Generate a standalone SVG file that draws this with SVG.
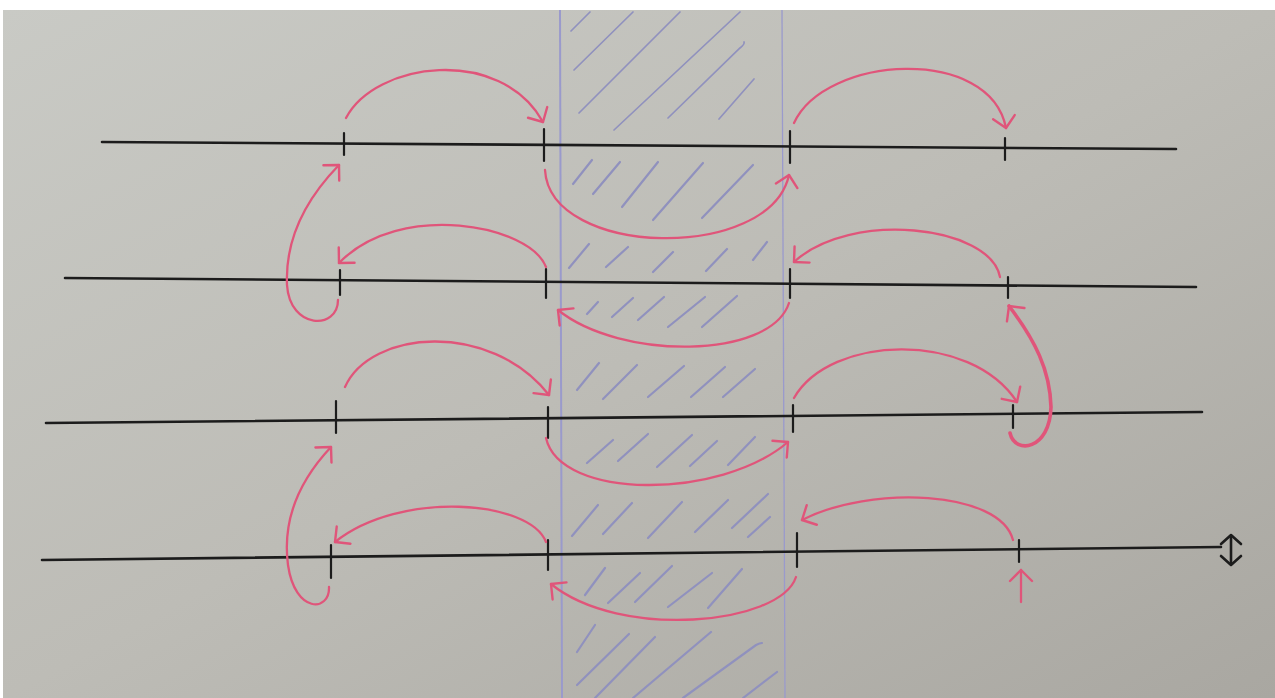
<svg xmlns="http://www.w3.org/2000/svg" width="1275" height="698" viewBox="0 0 1275 698">
<defs>
<linearGradient id="paper" x1="0" y1="0" x2="1" y2="1">
<stop offset="0" stop-color="#c9cac5"/>
<stop offset="0.5" stop-color="#bdbcb6"/>
<stop offset="1" stop-color="#a9a7a1"/>
</linearGradient>
<marker id="ah" viewBox="0 0 16 26" refX="13" refY="13" markerWidth="16" markerHeight="26" markerUnits="userSpaceOnUse" orient="auto">
<path d="M2,2 L13,13 L2,24" fill="none" stroke="#e0557a" stroke-width="2.4" stroke-linecap="round" stroke-linejoin="round"/>
</marker>
<marker id="bh" viewBox="0 0 14 24" refX="11" refY="12" markerWidth="14" markerHeight="24" markerUnits="userSpaceOnUse" orient="auto-start-reverse">
<path d="M2,2 L11,12 L2,22" fill="none" stroke="#1c1c1c" stroke-width="2.6" stroke-linecap="round" stroke-linejoin="round"/>
</marker>
</defs>
<style>
.axis{stroke:#1c1c1c;stroke-width:2.6;fill:none;stroke-linecap:round}
.tick{stroke:#1c1c1c;stroke-width:2.2;fill:none;stroke-linecap:round}
.band{stroke:#9a9acc;fill:none}
.hatch{stroke:#9091be;stroke-width:2.2;fill:none;stroke-linecap:round}
.hatch.thin{stroke-width:1.7}
.arc{stroke:#e0557a;stroke-width:2.3;fill:none;stroke-linecap:round;marker-end:url(#ah)}
.arc.thick{stroke-width:3.6}
</style>
<rect x="0" y="0" width="1275" height="698" fill="#ffffff"/>
<rect x="3" y="10" width="1272" height="688" fill="url(#paper)"/>

<g id="shaded-band">
<line class="band" x1="560" y1="10" x2="562" y2="698" stroke-width="2"/>
<line class="band" x1="782" y1="10" x2="785" y2="698" stroke-width="1.3"/>
<g class="hatch thin">
<line x1="571" y1="31" x2="590" y2="12"/>
<line x1="574" y1="70" x2="633" y2="12"/>
<line x1="579" y1="113" x2="680" y2="12"/>
<line x1="614" y1="130" x2="740" y2="12"/>
<path d="M668,118 L740,48 Q745,44 744,42"/>
<line x1="719" y1="119" x2="754" y2="79"/>
</g>
<g class="hatch">
<line x1="573" y1="184" x2="592" y2="160"/>
<line x1="593" y1="194" x2="620" y2="162"/>
<line x1="622" y1="207" x2="658" y2="162"/>
<line x1="653" y1="220" x2="703" y2="163"/>
<line x1="702" y1="218" x2="753" y2="165"/>
<line x1="569" y1="268" x2="589" y2="244"/>
<line x1="606" y1="267" x2="628" y2="247"/>
<line x1="653" y1="272" x2="673" y2="252"/>
<line x1="706" y1="271" x2="727" y2="249"/>
<line x1="753" y1="260" x2="767" y2="242"/>
<line x1="587" y1="314" x2="598" y2="302"/>
<line x1="612" y1="317" x2="633" y2="298"/>
<line x1="638" y1="320" x2="664" y2="297"/>
<line x1="668" y1="327" x2="705" y2="297"/>
<line x1="702" y1="327" x2="737" y2="296"/>
<line x1="577" y1="390" x2="599" y2="363"/>
<line x1="603" y1="399" x2="637" y2="365"/>
<line x1="648" y1="397" x2="684" y2="366"/>
<line x1="691" y1="397" x2="725" y2="367"/>
<line x1="723" y1="397" x2="755" y2="369"/>
<line x1="587" y1="463" x2="613" y2="440"/>
<line x1="618" y1="461" x2="648" y2="434"/>
<line x1="657" y1="467" x2="692" y2="435"/>
<line x1="690" y1="466" x2="717" y2="441"/>
<line x1="728" y1="465" x2="755" y2="437"/>
<line x1="572" y1="536" x2="598" y2="505"/>
<line x1="603" y1="534" x2="632" y2="503"/>
<line x1="648" y1="538" x2="682" y2="502"/>
<line x1="695" y1="532" x2="728" y2="500"/>
<line x1="732" y1="528" x2="768" y2="494"/>
<line x1="748" y1="537" x2="770" y2="517"/>
<line x1="585" y1="595" x2="605" y2="568"/>
<line x1="608" y1="603" x2="640" y2="573"/>
<line x1="635" y1="602" x2="672" y2="566"/>
<line x1="668" y1="607" x2="712" y2="573"/>
<line x1="708" y1="608" x2="742" y2="569"/>
<line x1="577" y1="652" x2="595" y2="625"/>
<line x1="577" y1="685" x2="629" y2="634"/>
<line x1="595" y1="698" x2="655" y2="637"/>
<line x1="633" y1="698" x2="711" y2="632"/>
<path d="M683,698 L756,645 Q760,643 762,643"/>
<line x1="743" y1="698" x2="777" y2="672"/>
</g>
</g>

<g id="axis-1">
<line class="axis" x1="102" y1="142" x2="1176" y2="149"/>
<line class="tick" x1="344" y1="133" x2="344" y2="155"/>
<line class="tick" x1="544" y1="129" x2="544" y2="161"/>
<line class="tick" x1="790" y1="131" x2="790" y2="163"/>
<line class="tick" x1="1005" y1="138" x2="1005" y2="160"/>
</g>
<g id="axis-2">
<line class="axis" x1="65" y1="278" x2="1196" y2="287"/>
<line class="tick" x1="340" y1="270" x2="340" y2="295"/>
<line class="tick" x1="546" y1="269" x2="546" y2="298"/>
<line class="tick" x1="790" y1="269" x2="790" y2="298"/>
<line class="tick" x1="1008" y1="277" x2="1008" y2="298"/>
</g>
<g id="axis-3">
<line class="axis" x1="46" y1="423" x2="1202" y2="412"/>
<line class="tick" x1="336" y1="401" x2="336" y2="433"/>
<line class="tick" x1="548" y1="407" x2="548" y2="438"/>
<line class="tick" x1="793" y1="405" x2="793" y2="432"/>
<line class="tick" x1="1013" y1="405" x2="1013" y2="428"/>
</g>
<g id="axis-4">
<line class="axis" x1="42" y1="560" x2="1221" y2="547"/>
<line class="tick" x1="331" y1="545" x2="331" y2="578"/>
<line class="tick" x1="548" y1="540" x2="548" y2="570"/>
<line class="tick" x1="797" y1="533" x2="797" y2="567"/>
<line class="tick" x1="1019" y1="540" x2="1019" y2="562"/>
</g>
<g id="height-marker">
<line x1="1231" y1="535" x2="1231" y2="565" stroke="#1c1c1c" stroke-width="2.6" marker-start="url(#bh)" marker-end="url(#bh)"/>
</g>

<g id="connectors">
<path class="arc" d="M346,118 C375,62 500,45 543,122"/>
<path class="arc" d="M794,123 C825,55 990,45 1006,128"/>
<path class="arc" d="M545,170 C550,258 770,262 789,175"/>
<path class="arc" d="M338,300 C338,330 290,330 287,285 C285,240 305,200 339,165"/>
<path class="arc" d="M1000,277 C990,225 850,210 794,262"/>
<path class="arc" d="M546,267 C530,225 400,200 339,263"/>
<path class="arc" d="M789,303 C770,360 620,360 558,310"/>
<path class="arc thick" d="M1010,433 C1015,455 1050,450 1051,407 C1050,370 1035,340 1009,306"/>
<path class="arc" d="M345,387 C370,330 490,320 549,395"/>
<path class="arc" d="M794,398 C830,335 970,330 1017,402"/>
<path class="arc" d="M546,438 C560,500 720,500 788,442"/>
<path class="arc" d="M329,587 C330,612 295,614 288,565 C282,520 300,480 331,447"/>
<path class="arc" d="M1013,540 C1000,490 870,485 802,520"/>
<path class="arc" d="M546,542 C530,500 400,490 335,542"/>
<path class="arc" d="M796,577 C780,625 620,640 551,584"/>
<path class="arc" d="M1021,602 L1021,570"/>
</g>
</svg>
